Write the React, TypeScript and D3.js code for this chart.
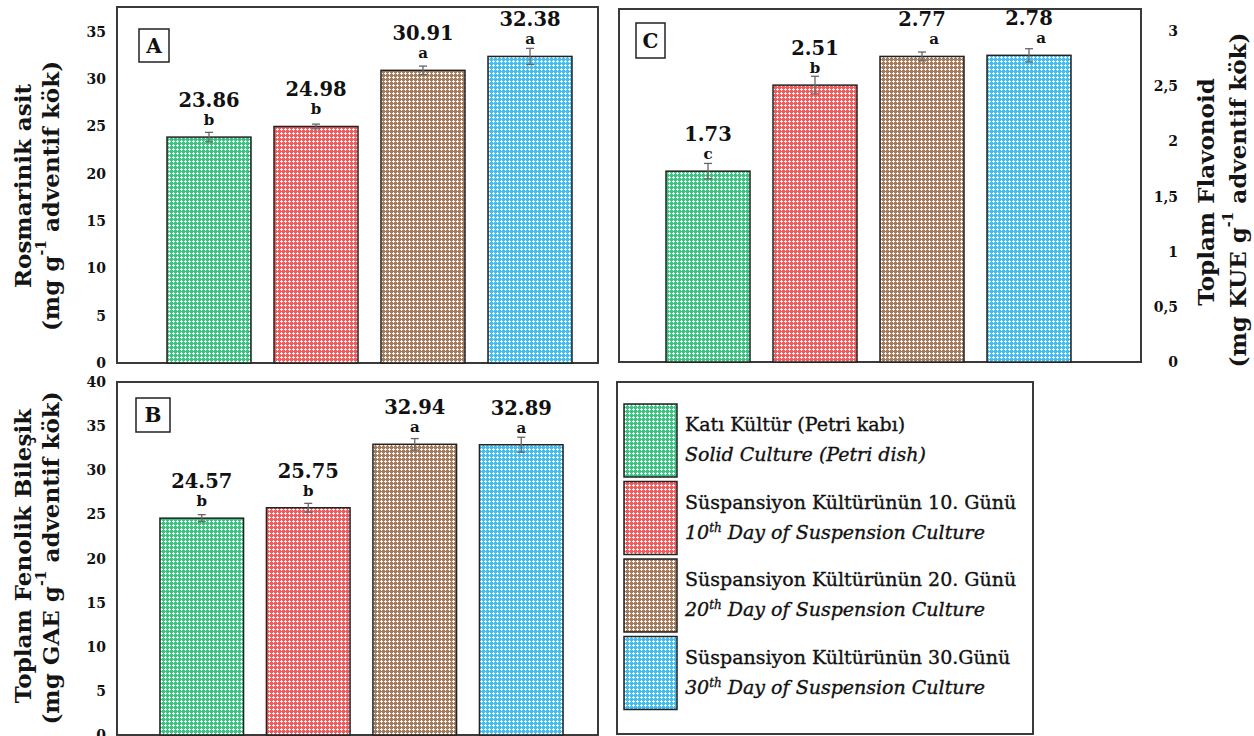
import React from "react";
import * as d3 from "d3";

// ---------- DATA ----------
const groupKeys = ["solid", "day10", "day20", "day30"];
const turkishLabels = [
  "Katı Kültür (Petri kabı)",
  "Süspansiyon Kültürünün 10. Günü",
  "Süspansiyon Kültürünün 20. Günü",
  "Süspansiyon Kültürünün 30.Günü",
];
const englishPrefix = ["", "10", "20", "30"];
const englishMain = [
  "Solid Culture (Petri dish)",
  " Day of Suspension Culture",
  " Day of Suspension Culture",
  " Day of Suspension Culture",
];
const barColors = ["#3cc281", "#f25a5c", "#a37c5e", "#43bdf0"];

const rosmarinicValues = [23.86, 24.98, 30.91, 32.38];
const rosmarinicErrors = [0.5, 0.25, 0.45, 0.85];
const rosmarinicLetters = ["b", "b", "a", "a"];
const rosmarinicTicks = [0, 5, 10, 15, 20, 25, 30, 35];

const phenolicValues = [24.57, 25.75, 32.94, 32.89];
const phenolicErrors = [0.4, 0.5, 0.65, 0.85];
const phenolicLetters = ["b", "b", "a", "a"];
const phenolicTicks = [0, 5, 10, 15, 20, 25, 30, 35, 40];

const flavonoidValues = [1.73, 2.51, 2.77, 2.78];
const flavonoidErrors = [0.07, 0.08, 0.04, 0.06];
const flavonoidLetters = ["c", "b", "a", "a"];
const flavonoidTicks = [0, 0.5, 1, 1.5, 2, 2.5, 3];

const FONT = "'DejaVu Serif', 'Liberation Serif', serif";
const FRAME = "#3a3a3a";

type PanelProps = {
  id: string;
  left: number;
  right: number;
  top: number;
  bottom: number;
  yMax: number;
  barRange: [number, number];
  values: number[];
  errors: number[];
  letters: string[];
  ticks: number[];
  tickX: number;
  tickFormat: (v: number) => string;
  letterDx: number;
  boxX: number;
  boxY: number;
  boxW: number;
  boxH: number;
};

function Panel(p: PanelProps) {
  const y = d3.scaleLinear().domain([0, p.yMax]).range([p.bottom, p.top]);
  const x = d3
    .scaleBand<string>()
    .domain(groupKeys)
    .range(p.barRange)
    .paddingInner(0.215)
    .paddingOuter(0.1075);
  const bw = x.bandwidth();
  return (
    <g>
      <rect
        x={p.left}
        y={p.top}
        width={p.right - p.left}
        height={p.bottom - p.top}
        fill="white"
        stroke={FRAME}
        strokeWidth={2}
      />
      {groupKeys.map((k, i) => {
        const v = p.values[i];
        const e = p.errors[i];
        const x0 = x(k) as number;
        const cx = x0 + bw / 2;
        const top = y(v);
        return (
          <g key={k}>
            <rect
              x={x0}
              y={top}
              width={bw}
              height={p.bottom - top}
              fill={`url(#pat${i})`}
              stroke="#222"
              strokeWidth={1.5}
            />
            <g stroke="#666" strokeWidth={1.3}>
              <line x1={cx} x2={cx} y1={y(v + e)} y2={y(v - e)} />
              <line x1={cx - 4} x2={cx + 4} y1={y(v + e)} y2={y(v + e)} />
              <line x1={cx - 4} x2={cx + 4} y1={y(v - e)} y2={y(v - e)} />
            </g>
            <text
              x={cx + (p.letters[i] === "a" ? p.letterDx : 0)}
              y={top - 12}
              textAnchor="middle"
              fontFamily={FONT}
              fontWeight="bold"
              fontSize={15}
              fill="#111"
            >
              {p.letters[i]}
            </text>
            <text
              x={cx}
              y={top - 30}
              textAnchor="middle"
              fontFamily={FONT}
              fontWeight="bold"
              fontSize={19.5}
              fill="#111"
            >
              {v.toFixed(2)}
            </text>
          </g>
        );
      })}
      {p.ticks.map((t) => (
        <text
          key={t}
          x={p.tickX}
          y={y(t)}
          dy="0.36em"
          textAnchor="end"
          fontFamily={FONT}
          fontWeight="bold"
          fontSize={14}
          fill="#111"
        >
          {p.tickFormat(t)}
        </text>
      ))}
      <rect
        x={p.boxX}
        y={p.boxY}
        width={p.boxW}
        height={p.boxH}
        fill="white"
        stroke="#222"
        strokeWidth={1.5}
      />
      <text
        x={p.boxX + p.boxW / 2}
        y={p.boxY + p.boxH / 2}
        dy="0.36em"
        textAnchor="middle"
        fontFamily={FONT}
        fontWeight="bold"
        fontSize={20}
        fill="#111"
      >
        {p.id}
      </text>
    </g>
  );
}

function AxisTitle({
  x,
  y,
  text,
}: {
  x: number;
  y: number;
  text: React.ReactNode;
}) {
  return (
    <text
      transform={`translate(${x},${y}) rotate(-90)`}
      textAnchor="middle"
      dominantBaseline="central"
      fontFamily={FONT}
      fontWeight="bold"
      fontSize={23}
      fill="#141414"
    >
      {text}
    </text>
  );
}

function unitLine(prefix: string) {
  return (
    <>
      <tspan>{prefix}g</tspan>
      <tspan dy={-9} fontSize={14}>
        -1
      </tspan>
      <tspan dy={9}> adventif kök)</tspan>
    </>
  );
}

export default function App() {
  const comma = (v: number) => String(v).replace(".", ",");
  const legendTop = 404;
  const legendStep = 77.5;
  const swH = 73;
  return (
    <svg
      width={1254}
      height={736}
      style={{ position: "absolute", left: 0, top: 0, background: "white" }}
    >
      <defs>
        {barColors.map((c, i) => (
          <pattern
            key={i}
            id={`pat${i}`}
            width={4}
            height={4}
            patternUnits="userSpaceOnUse"
          >
            <rect width={4} height={4} fill={c} />
            <rect x={0} y={1} width={3} height={1} fill="white" opacity={0.9} />
            <rect x={1} y={0} width={1} height={3} fill="white" opacity={0.9} />
          </pattern>
        ))}
      </defs>
      <rect width={1254} height={736} fill="white" />

      <Panel
        id="A"
        left={117}
        right={598}
        top={7}
        bottom={363}
        yMax={37.6}
        barRange={[155.5, 583.5]}
        values={rosmarinicValues}
        errors={rosmarinicErrors}
        letters={rosmarinicLetters}
        ticks={rosmarinicTicks}
        tickX={106}
        tickFormat={(v) => String(v)}
        letterDx={0}
        boxX={139}
        boxY={29}
        boxW={30}
        boxH={33}
      />
      <Panel
        id="B"
        left={117}
        right={598}
        top={382}
        bottom={735}
        yMax={40}
        barRange={[148.5, 574.5]}
        values={phenolicValues}
        errors={phenolicErrors}
        letters={phenolicLetters}
        ticks={phenolicTicks}
        tickX={106}
        tickFormat={(v) => String(v)}
        letterDx={0}
        boxX={136}
        boxY={398}
        boxW={34}
        boxH={34}
      />
      <Panel
        id="C"
        left={619}
        right={1141}
        top={9}
        bottom={362}
        yMax={3.2}
        barRange={[654.5, 1082.5]}
        values={flavonoidValues}
        errors={flavonoidErrors}
        letters={flavonoidLetters}
        ticks={flavonoidTicks}
        tickX={1178}
        tickFormat={comma}
        letterDx={12}
        boxX={636}
        boxY={23}
        boxW={29}
        boxH={35}
      />

      <AxisTitle x={22} y={186} text="Rosmarinik asit" />
      <AxisTitle x={50} y={196} text={unitLine("(mg ")} />
      <AxisTitle x={22} y={556} text="Toplam Fenolik Bileşik" />
      <AxisTitle x={50} y={558} text={unitLine("(mg GAE ")} />
      <AxisTitle x={1205} y={192} text="Toplam Flavonoid" />
      <AxisTitle x={1237} y={200} text={unitLine("(mg KUE ")} />

      {/* Legend */}
      <rect
        x={617}
        y={382}
        width={416}
        height={352}
        fill="white"
        stroke={FRAME}
        strokeWidth={2}
      />
      {groupKeys.map((k, i) => {
        const top = legendTop + i * legendStep;
        return (
          <g key={k}>
            <rect
              x={624}
              y={top}
              width={53}
              height={swH}
              fill={`url(#pat${i})`}
              stroke="#222"
              strokeWidth={1.5}
            />
            <text
              x={685}
              y={top + 27}
              fontFamily={FONT}
              fontSize={19}
              fill="#111"
              stroke="#111"
              strokeWidth={0.35}
            >
              {turkishLabels[i]}
            </text>
            <text
              x={685}
              y={top + 57}
              fontFamily={FONT}
              fontStyle="italic"
              fontSize={19}
              fill="#111"
              stroke="#111"
              strokeWidth={0.35}
            >
              {englishPrefix[i] ? (
                <>
                  <tspan>{englishPrefix[i]}</tspan>
                  <tspan dy={-7} fontSize={12}>
                    th
                  </tspan>
                  <tspan dy={7}>{englishMain[i]}</tspan>
                </>
              ) : (
                englishMain[i]
              )}
            </text>
          </g>
        );
      })}
    </svg>
  );
}
